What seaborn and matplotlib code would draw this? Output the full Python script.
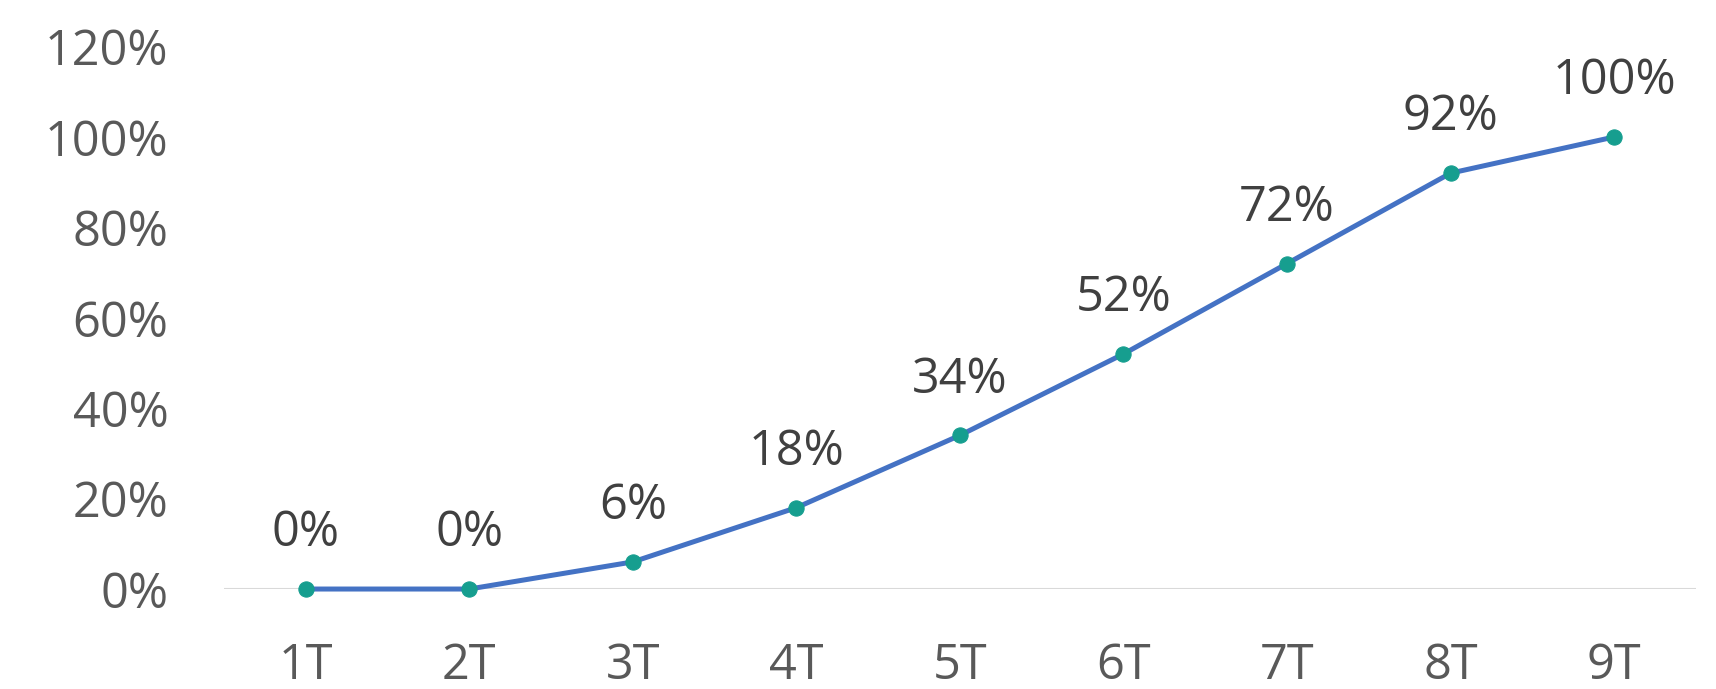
import matplotlib
matplotlib.use("Agg")
import matplotlib.pyplot as plt
import pandas as pd
import seaborn as sns

# ── Data ──────────────────────────────────────────────────────────────────────
categories = ["1T", "2T", "3T", "4T", "5T", "6T", "7T", "8T", "9T"]
values     = [0.00, 0.00, 0.06, 0.18, 0.34, 0.52, 0.72, 0.92, 1.00]
y_ticks    = [0.0, 0.2, 0.4, 0.6, 0.8, 1.0, 1.2]

LINE_COLOR   = "#4472C4"
MARKER_COLOR = "#169E8F"

sns.set_style("white")
plt.rcParams["font.family"] = ["Open Sans", "DejaVu Sans"]

df = pd.DataFrame({"cat": categories, "val": values})

fig = plt.figure(figsize=(17.16, 6.89), dpi=100)
ax = fig.add_axes([0.1305, 0.1451, 0.8578, 0.7873])

ax.axhline(0, color="#d9d9d9", lw=1.5, zorder=1)
sns.lineplot(data=df, x="cat", y="val", sort=False, ax=ax,
             color=LINE_COLOR, lw=3.6, marker="o", markersize=11,
             markerfacecolor=MARKER_COLOR, markeredgecolor=MARKER_COLOR,
             clip_on=False, zorder=3)

for i, v in enumerate(values):
    ax.annotate(f"{v:.0%}", (i, v), xytext=(0, 40), textcoords="offset points",
                ha="center", va="center", fontsize=35, color="#404040")

ax.set_xlim(-0.5, len(categories) - 0.5)
ax.set_ylim(0, 1.2)
ax.set_yticks(y_ticks)
ax.set_yticklabels([f"{t:.0%}" for t in y_ticks])
ax.tick_params(axis="y", length=0, pad=40, labelsize=35, labelcolor="#595959")
ax.tick_params(axis="x", length=0, pad=38, labelsize=35, labelcolor="#595959")
ax.set_xlabel("")
ax.set_ylabel("")
for s in ax.spines.values():
    s.set_visible(False)

fig.savefig("out.png", dpi=100)
